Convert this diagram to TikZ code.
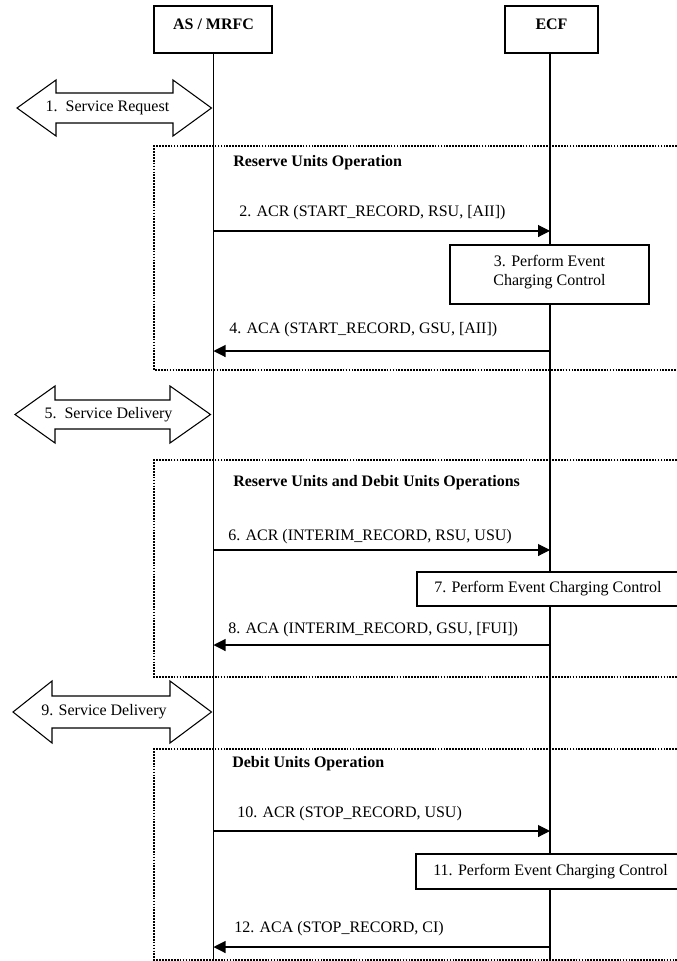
\documentclass[tikz,border=0pt]{standalone}
\usepackage{fontspec}
\setmainfont{Liberation Serif}
\usetikzlibrary{arrows.meta}

\tikzset{
  every node/.style={font=\fontsize{12pt}{14pt}\selectfont, inner sep=0pt},
  boxline/.style={line width=0.8pt},
  lifeline/.style={line width=0.9pt},
  msg/.style={line width=0.8pt, -{Triangle[length=9pt,width=9pt]}},
  phase/.style={line width=0.8pt, dash pattern=on 1.3pt off 0.9pt},
  phasetitle/.style={anchor=west, font=\fontsize{12pt}{14pt}\selectfont\bfseries},
  msglabel/.style={anchor=west}
}

\begin{document}
\begin{tikzpicture}[x=0.75pt, y=-0.75pt]
  \useasboundingbox (0,0) rectangle (677,961);
  \clip (0,0) rectangle (677,961);

  % entities
  \draw[boxline] (154,6) rectangle (272,53);
  \node[font=\fontsize{12pt}{14pt}\selectfont\bfseries] (as) at (213.5,24) {AS / MRFC};
  \draw[boxline] (505,6) rectangle (598,53);
  \node[font=\fontsize{12pt}{14pt}\selectfont\bfseries] (ecf) at (551.5,24) {ECF};
  \coordinate (astop) at (213.5,53);
  \coordinate (asbot) at (213.5,961);
  \coordinate (ecftop) at (550,53);
  \coordinate (ecfbot) at (550,961);
  \draw[lifeline] (astop) -- (asbot);
  \draw[lifeline] (ecftop) -- (ecfbot);

  % double arrows (service)
  \foreach \yc/\xl/\bl/\br/\xr/\hh/\sh/\tx/\t [count=\i] in {
      108/17/56/173/211.5/28/15/107.5/{1.\ \ Service Request},
      414.5/15/55/170/210.5/28.5/14.5/108.5/{5.\ \ Service Delivery},
      712/13/52/170/211.5/31/16/104/{9. Service Delivery}} {
    \draw[boxline, fill=white] (\xl,\yc) -- (\bl,\yc-\hh) -- (\bl,\yc-\sh) -- (\br,\yc-\sh)
      -- (\br,\yc-\hh) -- (\xr,\yc) -- (\br,\yc+\hh) -- (\br,\yc+\sh) -- (\bl,\yc+\sh)
      -- (\bl,\yc+\hh) -- cycle;
    \node (srv\i) at (\tx,\yc) {\t};
  }

  % dotted phase frames
  \draw[phase] (677,146) -- (154,146) -- (154,370) -- (677,370);
  \draw[phase] (677,460) -- (154,460) -- (154,677) -- (677,677);
  \draw[phase] (677,749) -- (154,749) -- (154,960) -- (677,960);
  \node[phasetitle] (ph1) at (233,163) {Reserve Units Operation};
  \node[phasetitle] (ph2) at (233,483) {Reserve Units and Debit Units Operations};
  \node[phasetitle] (ph3) at (232,764) {Debit Units Operation};

  % requests AS -> ECF
  \foreach \n/\y/\lx/\ly/\t in {
      2/231/239/213/{2. ACR (START\_RECORD, RSU, [AII])},
      6/550/228/537/{6. ACR (INTERIM\_RECORD, RSU, USU)},
      10/831/237/814/{10. ACR (STOP\_RECORD, USU)}} {
    \coordinate (s\n) at (213.5,\y);
    \coordinate (e\n) at (550,\y);
    \draw[msg] (s\n) -- (e\n);
    \node[msglabel] (l\n) at (\lx,\ly) {\t};
  }

  % answers ECF -> AS
  \foreach \n/\y/\lx/\ly/\t in {
      4/351/229/330/{4. ACA (START\_RECORD, GSU, [AII])},
      8/645/228/630/{8. ACA (INTERIM\_RECORD, GSU, [FUI])},
      12/947/234/929/{12. ACA (STOP\_RECORD, CI)}} {
    \coordinate (s\n) at (550,\y);
    \coordinate (e\n) at (213.5,\y);
    \draw[msg] (s\n) -- (e\n);
    \node[msglabel] (l\n) at (\lx,\ly) {\t};
  }

  % charging control
  \draw[boxline, fill=white] (450,245) rectangle (649,304);
  \node[align=center, font=\fontsize{12pt}{14.3pt}\selectfont] (p3) at (549.5,272) {3. Perform Event\\Charging Control};
  \draw[boxline, fill=white] (417,572) rectangle (690,606);
  \node[anchor=west] (p7) at (434,589) {7. Perform Event Charging Control};
  \draw[boxline, fill=white] (416,854) rectangle (690,889);
  \node[anchor=west] (p11) at (433,871.5) {11. Perform Event Charging Control};
\end{tikzpicture}
\end{document}
